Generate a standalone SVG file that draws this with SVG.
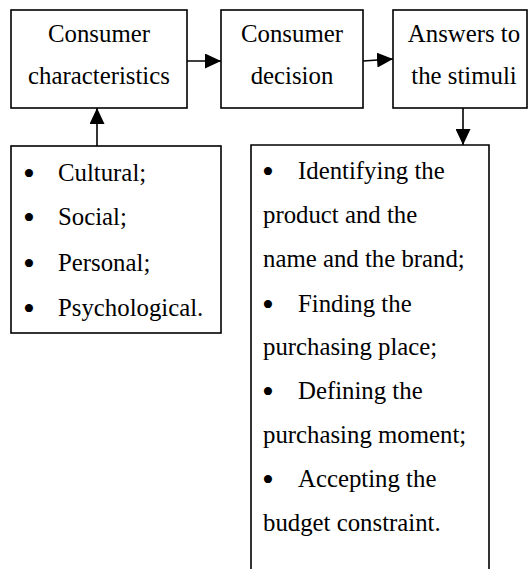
<svg xmlns="http://www.w3.org/2000/svg" width="529" height="569" viewBox="0 0 529 569">
<style>
.box{fill:#fff;stroke:#000;stroke-width:1.6}
.t{font-family:"Liberation Serif","Times New Roman",serif;font-size:24.8px;fill:#000}
.c{text-anchor:middle}
.b{font-family:"Liberation Serif","Times New Roman",serif;font-size:34px;fill:#000;text-anchor:middle}
.conn{stroke:#000;stroke-width:1.6;fill:none}
</style>
<defs>
<marker id="ah" markerUnits="userSpaceOnUse" markerWidth="16" markerHeight="15" refX="16" refY="7.5" orient="auto">
<path d="M0,0 L16,7.5 L0,15 Z" fill="#000"/>
</marker>
</defs>
<rect width="529" height="569" fill="#fff"/>
<g id="connectors">
<line class="conn" x1="187" y1="61" x2="221" y2="61" marker-end="url(#ah)"/>
<line class="conn" x1="363" y1="61" x2="393" y2="59" marker-end="url(#ah)"/>
<line class="conn" x1="463" y1="108" x2="463" y2="145" marker-end="url(#ah)"/>
<line class="conn" x1="97" y1="146" x2="97" y2="108" marker-end="url(#ah)"/>
</g>
<g id="consumer-characteristics">
<rect class="box" x="11" y="10" width="176" height="98"/>
<text class="t c" x="99" y="42">Consumer</text>
<text class="t c" x="99" y="84">characteristics</text>
</g>
<g id="consumer-decision">
<rect class="box" x="221" y="10" width="142" height="98"/>
<text class="t c" x="292" y="42">Consumer</text>
<text class="t c" x="292" y="84">decision</text>
</g>
<g id="answers">
<rect class="box" x="393" y="10" width="134" height="98"/>
<text class="t c" x="464" y="42">Answers to</text>
<text class="t c" x="464" y="84">the stimuli</text>
</g>
<g id="characteristics-list">
<rect class="box" x="11" y="146" width="210" height="187"/>
<text class="b" x="29" y="185">•</text><text class="t" x="58" y="181">Cultural;</text>
<text class="b" x="29" y="229">•</text><text class="t" x="58" y="225">Social;</text>
<text class="b" x="29" y="275">•</text><text class="t" x="58" y="271">Personal;</text>
<text class="b" x="29" y="320">•</text><text class="t" x="58" y="316">Psychological.</text>
</g>
<g id="answers-list">
<path class="box" d="M251,575 L251,145 L489,145 L489,575"/>
<text class="b" x="268" y="183">•</text><text class="t" x="298" y="179">Identifying the</text>
<text class="t" x="263" y="223">product and the</text>
<text class="t" x="263" y="267">name and the brand;</text>
<text class="b" x="268" y="316">•</text><text class="t" x="298" y="312">Finding the</text>
<text class="t" x="263" y="355">purchasing place;</text>
<text class="b" x="268" y="403">•</text><text class="t" x="298" y="399">Defining the</text>
<text class="t" x="263" y="443">purchasing moment;</text>
<text class="b" x="268" y="491">•</text><text class="t" x="298" y="487">Accepting the</text>
<text class="t" x="263" y="531">budget constraint.</text>
</g>
</svg>
